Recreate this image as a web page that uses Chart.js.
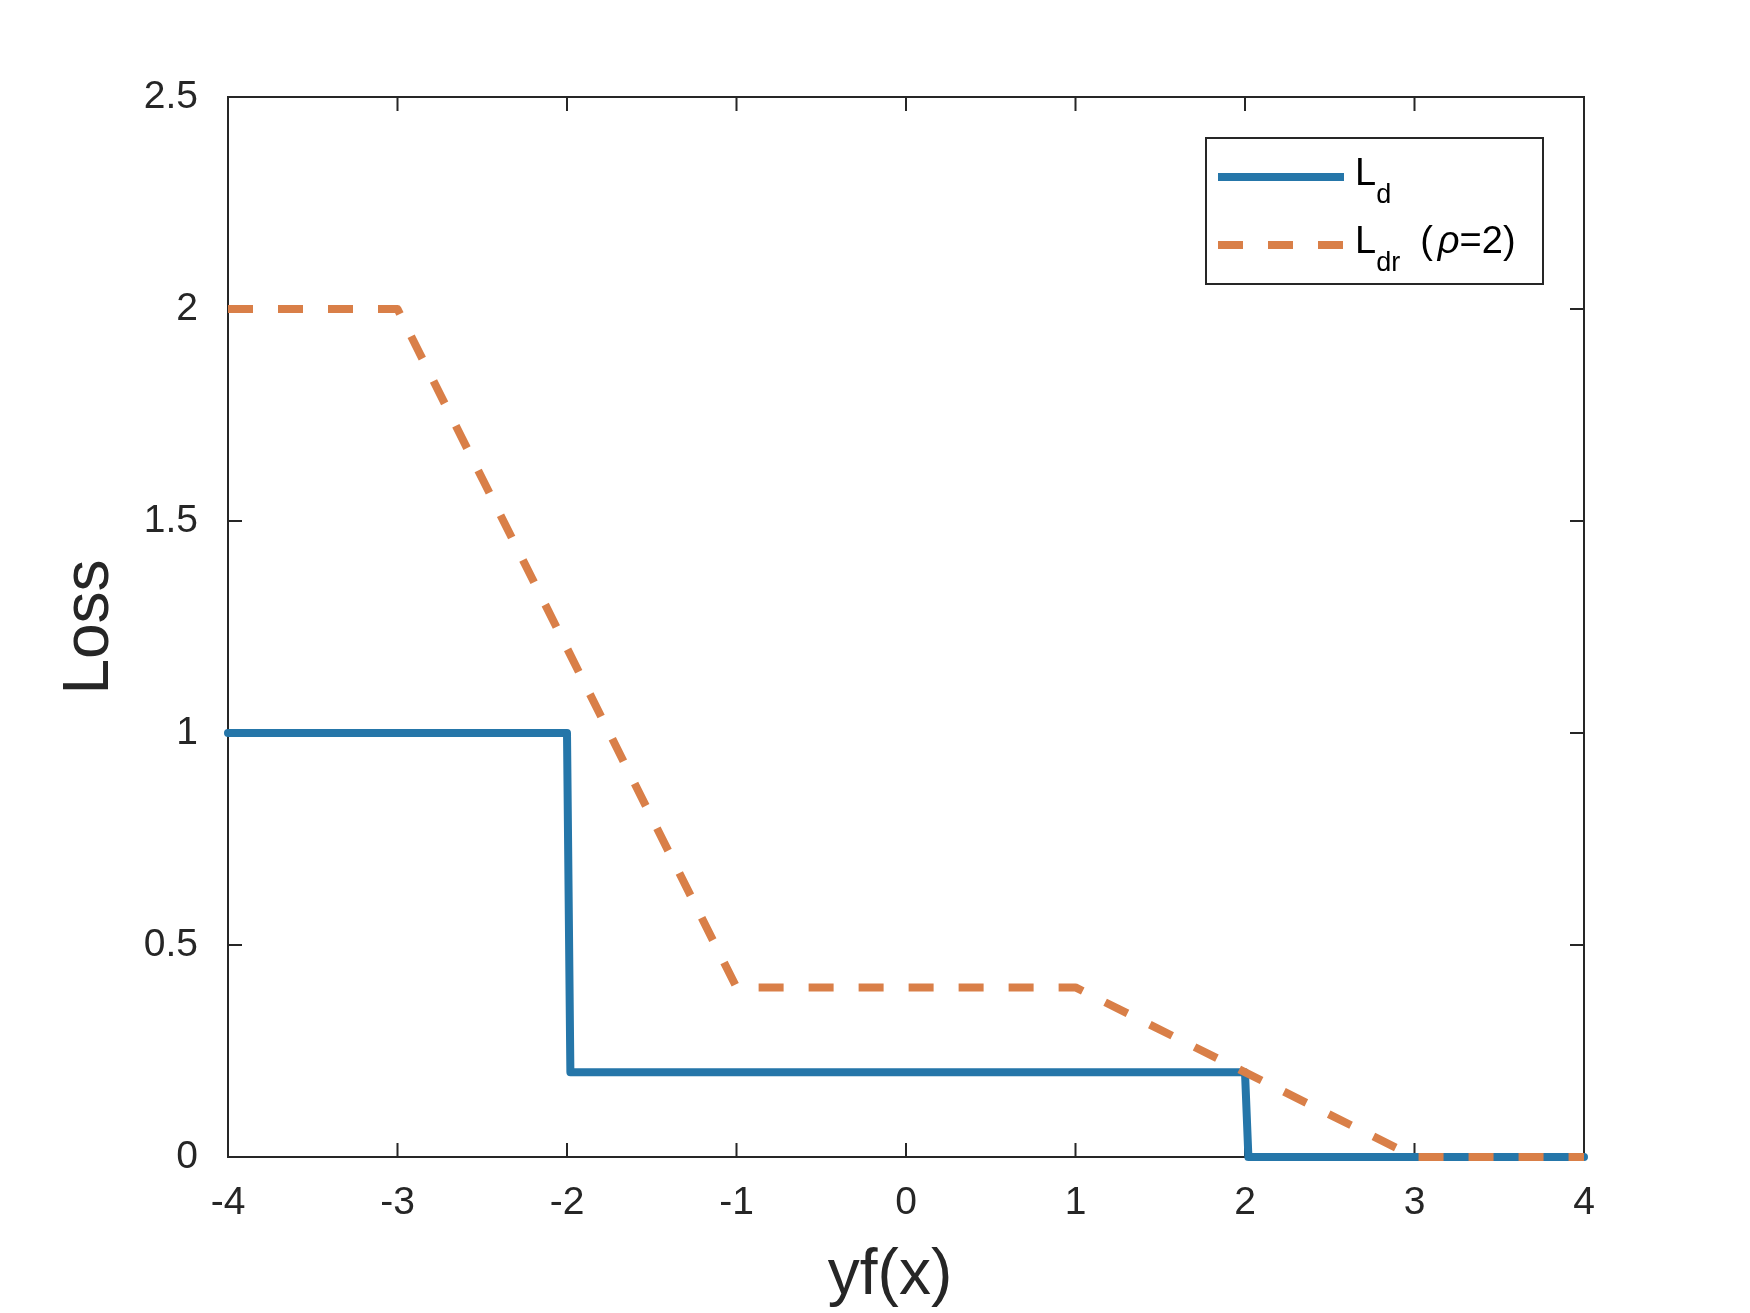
<!DOCTYPE html>
<html>
<head>
<meta charset="utf-8">
<title>Loss vs yf(x)</title>
<script src="https://cdn.jsdelivr.net/npm/chart.js@4.4.1/dist/chart.umd.min.js"></script>
<style>
  html, body { margin: 0; padding: 0; background: #ffffff; }
  #wrap { width: 1750px; height: 1313px; }
</style>
</head>
<body>
<div id="wrap"><canvas id="lossChart" width="1750" height="1313"></canvas></div>
<script>
// ---- data ----
const xTicks = [-4, -3, -2, -1, 0, 1, 2, 3, 4];
const yTicks = [0, 0.5, 1, 1.5, 2, 2.5];

// L_d : step loss
const ldX = [-4, -2, -1.98, 2, 2.02, 4];
const ldY = [1, 1, 0.2, 0.2, 0, 0];

// L_dr (rho = 2) : ramp version
const ldrX = [-4, -3, -1, 1, 3, 4];
const ldrY = [2, 2, 0.4, 0.4, 0, 0];

// legend text pieces: main letter, subscript, trailing part
const legendMain = ['L', 'L'];
const legendSub = ['d', 'dr'];
const legendTail = ['', '=2)'];

const xTitle = 'yf(x)';
const yTitle = 'Loss';

// ---- styling ----
const colors = {
    blue: '#2576a9',
    orange: '#d97f48',
    axis: '#262626',
    text: '#000000'
};
const FONT = "'Liberation Sans', Arial, Helvetica, sans-serif";

function toPoints(xs, ys) {
    return xs.map((x, i) => ({ x: x, y: ys[i] }));
}

// box + inward ticks on all four sides (drawn under the lines)
const framePlugin = {
    id: 'frame',
    beforeDatasetsDraw(chart) {
        const { ctx, chartArea: a, scales } = chart;
        const tick = 14;
        ctx.save();
        ctx.strokeStyle = colors.axis;
        ctx.lineWidth = 2;
        ctx.strokeRect(a.left, a.top, a.right - a.left, a.bottom - a.top);
        ctx.beginPath();
        xTicks.forEach(v => {
            const px = scales.x.getPixelForValue(v);
            ctx.moveTo(px, a.bottom); ctx.lineTo(px, a.bottom - tick);
            ctx.moveTo(px, a.top); ctx.lineTo(px, a.top + tick);
        });
        yTicks.forEach(v => {
            const py = scales.y.getPixelForValue(v);
            ctx.moveTo(a.left, py); ctx.lineTo(a.left + tick, py);
            ctx.moveTo(a.right, py); ctx.lineTo(a.right - tick, py);
        });
        ctx.stroke();

        // x axis title, centred a little left of the axes middle like the original
        ctx.fillStyle = colors.axis;
        ctx.font = '64px ' + FONT;
        ctx.textAlign = 'center';
        ctx.textBaseline = 'alphabetic';
        ctx.fillText(xTitle, (a.left + a.right) / 2 - 16, a.bottom + 137);
        ctx.restore();
    }
};

// legend with subscripts, top right inside the axes
const legendPlugin = {
    id: 'subLegend',
    afterDraw(chart) {
        const { ctx, chartArea: a } = chart;
        const boxR = a.right - 41, boxT = a.top + 41;
        const boxW = 337, boxH = 146;
        const boxL = boxR - boxW;
        ctx.save();
        ctx.fillStyle = '#ffffff';
        ctx.fillRect(boxL, boxT, boxW, boxH);
        ctx.strokeStyle = colors.axis;
        ctx.lineWidth = 2;
        ctx.strokeRect(boxL, boxT, boxW, boxH);

        const rows = [boxT + 39, boxT + 107];
        chart.data.datasets.forEach((ds, i) => {
            const y = rows[i];
            ctx.beginPath();
            ctx.setLineDash(ds.borderDash || []);
            ctx.lineCap = 'butt';
            ctx.strokeStyle = ds.borderColor;
            ctx.lineWidth = ds.borderWidth;
            ctx.moveTo(boxL + 12, y);
            ctx.lineTo(boxL + 138, y);
            ctx.stroke();
            ctx.setLineDash([]);

            ctx.fillStyle = colors.text;
            ctx.textBaseline = 'alphabetic';
            ctx.textAlign = 'left';
            let x = boxL + 149;
            ctx.font = '38px ' + FONT;
            ctx.fillText(legendMain[i], x, y + 8);
            x += ctx.measureText(legendMain[i]).width;
            ctx.font = '27px ' + FONT;
            ctx.fillText(legendSub[i], x, y + 26);
            x += ctx.measureText(legendSub[i]).width;
            if (legendTail[i]) {
                x += 20;
                ctx.font = '38px ' + FONT;
                ctx.fillText('(', x, y + 8);
                x += ctx.measureText('(').width + 5;
                ctx.font = 'italic 38px ' + FONT;
                ctx.fillText('\u03c1', x, y + 8);
                x += ctx.measureText('\u03c1').width;
                ctx.font = '38px ' + FONT;
                ctx.fillText(legendTail[i], x, y + 8);
            }
        });
        ctx.restore();
    }
};

Chart.defaults.font.family = FONT;
Chart.defaults.color = colors.axis;

new Chart(document.getElementById('lossChart'), {
    type: 'line',
    data: {
        datasets: [
            {
                label: 'L_d',
                data: toPoints(ldX, ldY),
                borderColor: colors.blue,
                borderWidth: 8,
                borderCapStyle: 'round',
                borderJoinStyle: 'round',
                pointRadius: 0,
                tension: 0,
                fill: false,
                clip: false,
                order: 2
            },
            {
                label: 'L_dr (rho=2)',
                data: toPoints(ldrX, ldrY),
                borderColor: colors.orange,
                borderWidth: 8,
                borderDash: [25, 25],
                borderCapStyle: 'butt',
                borderJoinStyle: 'round',
                pointRadius: 0,
                tension: 0,
                fill: false,
                clip: false,
                order: 1
            }
        ]
    },
    options: {
        responsive: false,
        devicePixelRatio: 1,
        animation: false,
        events: [],
        layout: { padding: { left: 0, top: 97, right: 166, bottom: 0 } },
        plugins: {
            legend: { display: false },
            tooltip: { enabled: false }
        },
        scales: {
            x: {
                type: 'linear',
                min: -4,
                max: 4,
                afterBuildTicks: s => { s.ticks = xTicks.map(v => ({ value: v })); },
                afterFit: s => { s.height = 156; },
                grid: { display: false, drawTicks: false },
                border: { display: false },
                ticks: {
                    font: { size: 39 },
                    color: colors.axis,
                    padding: 23,
                    maxRotation: 0,
                    callback: v => String(v)
                }
            },
            y: {
                type: 'linear',
                min: 0,
                max: 2.5,
                afterBuildTicks: s => { s.ticks = yTicks.map(v => ({ value: v })); },
                afterFit: s => { s.width = 228; },
                grid: { display: false, drawTicks: false },
                border: { display: false },
                ticks: {
                    font: { size: 39 },
                    color: colors.axis,
                    padding: 30,
                    callback: v => String(v)
                },
                title: {
                    display: true,
                    text: yTitle,
                    color: colors.axis,
                    font: { size: 64, lineHeight: 1 },
                    padding: { top: 58, bottom: 0 }
                }
            }
        }
    },
    plugins: [framePlugin, legendPlugin]
});
</script>
</body>
</html>
